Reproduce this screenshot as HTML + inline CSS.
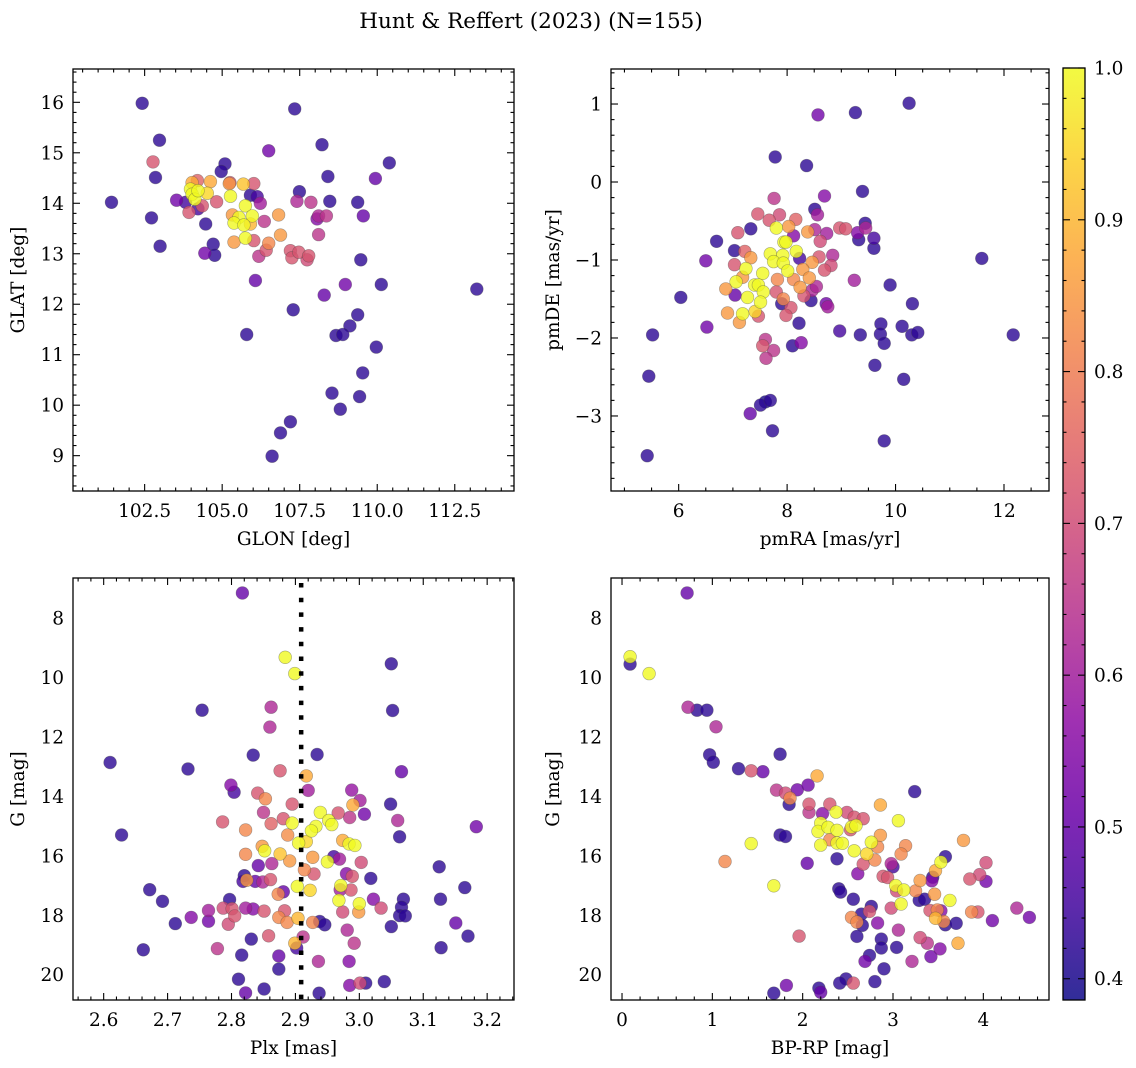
<!DOCTYPE html>
<html><head><meta charset="utf-8"><style>
html,body{margin:0;padding:0;background:#fff;}
svg{display:block;font-family:"DejaVu Serif","Liberation Serif",serif;}
</style></head><body>
<svg id="fig" width="1136" height="1068" viewBox="0 0 1136 1068" xmlns="http://www.w3.org/2000/svg">
<text x="531" y="28" font-size="21.5" text-anchor="middle" fill="#000">Hunt &amp; Reffert (2023) (N=155)</text>
</svg>
<script>
// ---- data: panel 1 (GLON vs GLAT)
const glon=[102.42,107.34,102.98,108.22,106.5,102.77,110.39,105.09,104.97,102.85,108.41,109.94,101.43,102.72,103.0,103.53,103.82,103.93,104.22,104.36,104.03,104.2,103.98,104.03,104.12,104.22,104.52,104.62,104.82,104.47,104.71,104.44,104.76,105.25,105.23,105.27,105.68,106.02,105.91,106.13,106.23,105.33,105.75,105.97,105.54,105.38,105.7,105.91,105.38,105.75,106.02,106.36,106.82,106.88,106.5,106.42,106.18,106.07,107.2,107.25,107.47,107.79,107.74,107.49,107.41,107.86,108.11,108.06,108.36,108.11,108.47,109.37,109.55,109.47,110.13,113.21,108.97,108.29,107.29,105.79,109.37,109.12,108.67,108.89,109.97,109.53,108.54,109.43,108.81,107.2,106.88,106.61];
const glat=[15.98,15.87,15.25,15.16,15.04,14.82,14.8,14.78,14.63,14.51,14.53,14.49,14.02,13.71,13.15,14.06,14.02,13.82,13.89,13.95,14.41,14.45,14.28,14.18,14.08,14.25,14.2,14.43,14.03,13.59,13.19,13.01,12.97,14.41,14.39,14.14,14.38,14.39,14.16,14.13,14.0,13.77,13.95,13.75,13.72,13.61,13.57,13.59,13.23,13.31,13.26,13.64,13.77,13.37,13.21,13.07,12.95,12.47,13.06,12.92,13.03,12.96,12.88,14.23,14.04,14.02,13.75,13.69,13.75,13.38,14.04,14.02,13.75,12.88,12.39,12.3,12.39,12.18,11.89,11.4,11.79,11.57,11.38,11.4,11.15,10.64,10.24,10.17,9.92,9.67,9.45,8.99];
const prob1=[.42,.42,.42,.42,.52,.72,.42,.42,.42,.42,.42,.5,.42,.42,.42,.52,.45,.72,.45,.72,.88,.75,1,1,1,1,.95,.88,.72,.42,.42,.52,.42,.72,.85,1,.92,.72,.42,.45,.6,.85,1,1,1,1,1,.9,.85,1,.72,.65,.85,.85,.82,.72,.65,.5,.72,.72,.72,.72,.7,.42,.62,.65,.62,.55,.65,.65,.42,.42,.5,.42,.42,.42,.52,.5,.42,.42,.42,.42,.42,.42,.42,.42,.42,.42,.42,.42,.42,.42];
// ---- data: panel 2 (pmRA vs pmDE)
const pmra=[10.25,9.26,8.57,7.78,8.36,8.69,9.39,7.76,8.51,8.56,7.46,7.86,7.67,8.16,7.33,7.09,7.8,8.03,8.12,8.38,8.51,8.73,8.61,8.97,9.08,9.3,9.45,9.44,9.32,9.6,9.6,6.7,7.03,6.5,7.22,7.33,7.03,7.24,7.69,7.94,7.98,8.17,7.92,7.75,7.93,8.01,7.55,8.23,8.46,8.29,8.41,8.12,7.82,8.59,8.84,8.81,8.69,9.24,9.9,7.06,6.87,7.18,7.4,7.47,7.56,7.04,7.27,7.51,7.8,7.93,7.9,8.24,8.31,8.46,8.54,8.44,8.72,8.75,8.07,7.98,6.04,6.9,7.12,7.18,7.41,7.47,8.22,10.31,6.52,5.52,8.97,9.35,9.73,9.72,9.79,10.12,10.3,10.41,11.59,12.17,7.6,7.55,7.75,7.61,8.1,8.26,9.62,10.15,5.45,7.51,7.6,7.69,7.32,7.73,9.79,5.42];
const pmde=[1.01,0.89,0.86,0.32,0.21,-0.18,-0.12,-0.21,-0.35,-0.42,-0.41,-0.42,-0.49,-0.48,-0.6,-0.65,-0.59,-0.57,-0.69,-0.64,-0.61,-0.66,-0.76,-0.59,-0.6,-0.65,-0.59,-0.53,-0.74,-0.72,-0.85,-0.76,-0.88,-1.01,-0.89,-0.97,-1.06,-1.11,-0.92,-0.77,-0.77,-0.89,-0.94,-1.02,-1.04,-1.14,-1.17,-0.98,-1.03,-1.12,-1.23,-1.25,-1.25,-0.96,-0.94,-1.07,-1.13,-1.26,-1.32,-1.28,-1.37,-1.22,-1.32,-1.32,-1.41,-1.45,-1.48,-1.54,-1.41,-1.5,-1.56,-1.35,-1.46,-1.39,-1.34,-1.52,-1.56,-1.6,-1.61,-1.71,-1.48,-1.68,-1.8,-1.69,-1.66,-1.72,-1.81,-1.56,-1.86,-1.96,-1.91,-1.96,-1.82,-1.95,-2.07,-1.85,-1.96,-1.93,-0.98,-1.96,-2.02,-2.1,-2.16,-2.26,-2.1,-2.06,-2.35,-2.53,-2.49,-2.86,-2.82,-2.8,-2.97,-3.19,-3.32,-3.51];
const prob2=[.42,.42,.52,.42,.42,.55,.42,.65,.42,.6,.72,.7,.72,.75,.42,.72,1,.85,.55,.85,.62,.6,.7,.72,.72,.55,.62,.42,.42,.45,.42,.42,.42,.52,.75,.85,.72,1,1,1,1,1,1,1,1,1,1,.45,.85,.85,.85,.82,.82,.72,.62,.7,.72,.6,.42,1,.85,.85,1,1,1,.5,1,1,.72,.82,.42,.85,.72,.62,.62,.42,.52,.6,.72,.72,.42,.85,.85,1,.95,.72,.42,.42,.52,.42,.45,.42,.42,.42,.42,.42,.42,.42,.42,.42,.65,.72,.65,.65,.42,.55,.42,.42,.42,.42,.4,.42,.5,.42,.42,.42];
// ---- data: panel 3 (Plx vs G)
const plx=[2.817,2.884,2.899,3.05,2.754,2.862,2.86,3.052,2.61,2.834,2.934,2.732,2.876,3.066,2.917,2.799,2.804,2.92,2.988,2.841,2.853,2.895,3.001,2.99,3.049,3.008,2.85,2.786,2.862,2.881,2.895,2.939,2.967,2.985,2.952,2.957,2.932,2.925,3.06,3.183,2.628,2.822,2.888,3.063,2.905,2.917,2.974,2.984,2.993,2.848,2.852,2.822,2.876,2.891,2.927,2.95,2.96,2.969,3.003,2.842,2.863,2.914,2.929,3.125,2.82,2.818,2.824,2.837,2.849,2.861,2.98,2.989,3.018,2.672,2.903,2.923,2.971,2.97,2.987,2.873,2.881,3.165,2.692,2.797,2.968,3.0,2.999,3.022,3.034,3.069,3.066,3.063,3.072,3.127,2.764,2.787,2.801,2.805,2.822,2.834,2.851,2.883,2.874,2.887,2.904,2.927,2.938,2.946,2.974,2.712,2.737,2.764,2.795,3.05,3.151,3.17,2.662,2.778,2.831,2.858,2.912,2.902,2.899,2.981,2.992,3.128,2.816,2.874,2.874,2.936,2.984,2.811,2.822,2.851,2.937,2.985,3.001,3.01,3.039];
const gmag3=[7.16,9.32,9.87,9.54,11.1,11.0,11.67,11.11,12.86,12.61,12.59,13.08,13.14,13.17,13.31,13.62,13.86,13.8,13.79,13.89,14.08,14.26,14.14,14.29,14.26,14.6,14.54,14.86,14.92,14.75,14.9,14.54,14.56,14.71,14.81,14.95,15.01,15.16,14.81,15.02,15.3,15.13,15.3,15.36,15.57,15.52,15.48,15.6,15.65,15.68,15.83,15.95,15.94,16.17,16.05,16.2,16.03,16.11,16.22,16.33,16.26,16.47,16.61,16.37,16.67,16.86,16.82,16.86,16.88,16.8,16.6,16.69,16.76,17.14,17.03,17.16,17.0,17.14,17.15,17.29,17.21,17.07,17.53,17.47,17.5,17.61,17.89,17.46,17.76,17.46,17.73,18.01,18.02,17.46,17.84,17.76,17.78,18.02,17.76,17.79,17.86,17.85,18.07,18.24,18.1,18.24,18.21,18.32,17.89,18.28,18.07,18.2,18.3,18.38,18.26,18.7,19.16,19.12,18.8,18.69,18.73,19.1,18.94,18.5,18.94,19.09,19.34,19.37,19.81,19.55,19.55,20.15,20.61,20.48,20.62,20.36,20.28,20.28,20.23];
const prob3=[.5,1,1,.42,.42,.62,.62,.42,.42,.42,.42,.42,.72,.5,.88,.55,.45,.6,.58,.72,.82,.72,.6,.88,.42,.52,.65,.72,.75,.72,1,1,.72,.65,1,1,1,1,.62,.52,.42,.82,.83,.42,1,.95,.88,1,1,.85,1,.82,.92,.85,.85,1,.45,.6,.7,.5,.62,.82,.72,.42,.42,.45,.85,.5,.62,.72,.55,.72,.42,.42,1,.95,1,.6,.72,.82,.5,.42,.42,.42,1,1,.85,.55,.7,.42,.42,.42,.42,.42,.6,.7,.72,.72,.6,.55,.72,.72,.82,.82,.9,.82,.42,.42,.7,.42,.55,.52,.7,.42,.5,.42,.42,.65,.42,.72,.65,.45,.9,.62,.65,.42,.42,.5,.42,.62,.55,.42,.5,.42,.42,.55,.7,.42,.42];
const plxRef=[2.909];
// ---- data: panel 4 (BP-RP vs G)
const bprp=[0.72,0.09,0.09,0.3,0.73,0.83,0.94,1.04,0.97,1.01,1.29,1.43,1.56,1.75,2.16,1.71,1.81,1.94,2.06,1.85,1.86,2.07,2.07,2.22,2.3,2.37,2.49,2.57,2.67,2.86,3.06,2.2,2.17,2.28,2.38,2.54,2.59,2.53,1.75,1.81,1.43,2.3,2.38,2.44,2.2,2.57,2.76,2.86,2.83,2.71,2.8,2.67,3.14,3.09,3.78,3.58,3.53,3.47,4.03,1.14,2.05,2.38,2.61,2.98,3.0,2.89,2.94,1.68,3.03,3.12,3.04,3.25,3.3,3.43,3.44,3.85,3.96,4.03,2.4,2.42,2.56,3.29,3.35,3.46,3.63,3.09,2.98,3.41,3.49,3.53,3.47,3.56,3.58,3.7,3.87,3.94,4.1,4.37,4.51,2.76,2.74,2.65,2.54,2.6,2.66,2.83,2.6,1.96,2.87,2.87,3.04,3.06,3.3,3.38,3.52,3.42,3.72,2.74,2.69,2.9,3.21,2.48,2.41,2.56,2.8,2.18,2.2,1.82,1.68,3.24];
const gmag4=[7.16,9.3,9.55,9.87,11.0,11.1,11.1,11.66,12.6,12.85,13.07,13.14,13.17,12.58,13.31,13.79,13.89,13.78,13.62,14.27,14.06,14.26,14.54,14.58,14.26,14.53,14.54,14.7,14.75,14.29,14.82,14.9,15.18,15.04,15.14,15.03,14.98,15.12,15.3,15.35,15.59,15.46,15.57,15.58,15.64,15.83,15.54,15.31,15.7,15.94,16.14,16.28,15.66,15.94,15.48,16.03,16.21,16.5,16.23,16.19,16.25,16.1,16.6,16.26,16.37,16.69,16.73,17.01,17.0,17.15,17.18,17.18,16.83,16.84,16.72,16.78,16.63,16.86,17.11,17.22,17.46,17.5,17.46,17.29,17.5,17.62,17.76,17.84,17.82,17.85,18.1,18.21,18.32,18.27,17.89,17.89,18.18,17.76,18.07,17.7,17.87,17.96,18.07,18.23,18.34,18.26,18.71,18.7,18.8,19.1,19.08,18.5,18.75,18.94,19.13,19.39,18.94,19.35,19.55,19.8,19.55,20.14,20.28,20.28,20.23,20.45,20.59,20.36,20.62,13.84];
const prob4=[.5,1,.42,1,.62,.42,.42,.62,.42,.42,.42,.72,.5,.42,.88,.65,.7,.52,.52,.42,.82,.72,.65,.55,.72,1,.7,.72,.72,.88,1,1,1,1,1,1,1,.72,.42,.42,1,.82,1,1,1,1,1,.85,.82,.95,.82,.72,.82,.82,.85,.42,1,.88,.7,.82,.5,.42,.55,.62,.45,.72,.72,1,1,1,.7,.82,.85,.55,.42,.72,.7,.52,.42,.42,.42,.42,.42,.85,1,1,.7,.72,.82,.55,.9,.82,.42,.42,.82,.72,.52,.62,.52,.42,.72,.42,.82,.82,.42,.55,.42,.72,.42,.42,.42,.62,.7,.65,.55,.52,.88,.42,.52,.42,.62,.42,.42,.72,.42,.42,.5,.52,.42,.42];
// ---- tick labels
const xt1=[102.5,105.0,107.5,110.0,112.5], yt1=[9,10,11,12,13,14,15,16];
const xt2=[6,8,10,12], yt2=[-3,-2,-1,0,1];
const xt3=[2.6,2.7,2.8,2.9,3.0,3.1,3.2], yt3=[8,10,12,14,16,18,20];
const xt4=[0,1,2,3,4], yt4=[8,10,12,14,16,18,20];
const cbTicks=[0.4,0.5,0.6,0.7,0.8,0.9,1.0];
const VMIN=0.386, VMAX=1.0;

const NS="http://www.w3.org/2000/svg";
const svg=document.getElementById('fig');
const FS=18.5;
function mk(tag,attrs,parent){const e=document.createElementNS(NS,tag);for(const k in attrs)e.setAttribute(k,attrs[k]);(parent||svg).appendChild(e);return e;}
const plasma=[[13,8,135],[65,4,157],[106,0,168],[143,13,164],[177,42,144],[204,71,120],[225,100,98],[242,132,75],[252,166,54],[252,206,37],[240,249,33]];
function cmap(v){let t=(v-VMIN)/(VMAX-VMIN);t=Math.max(0,Math.min(1,t));const f=t*10,i=Math.min(9,Math.floor(f)),r=f-i;const a=plasma[i],b=plasma[i+1];return `rgb(${Math.round(a[0]+(b[0]-a[0])*r)},${Math.round(a[1]+(b[1]-a[1])*r)},${Math.round(a[2]+(b[2]-a[2])*r)})`;}
function fmt(v,d){return v.toFixed(d);}

function panel(o){
  const g=mk('g',{});
  
  
  const sx=v=>o.L+(v-o.x0)/(o.x1-o.x0)*(o.R-o.L);
  const sy=v=>o.B-(v-o.y0)/(o.y1-o.y0)*(o.B-o.T);
  const clipId='clip-'+o.name;
  const cp=mk('clipPath',{id:clipId},g);mk('rect',{x:o.L,y:o.T,width:o.R-o.L,height:o.B-o.T},cp);
  const pts=mk('g',{'clip-path':`url(#${clipId})`},g);
  
  
  const n=Math.min(o.xs.length,o.ys.length,o.ps.length);
  const idx=[];for(let i=0;i<n;i++)idx.push(i);
  idx.sort((a,b)=>o.ps[a]-o.ps[b]);
  for(const i of idx){
    const c=mk('circle',{cx:sx(o.xs[i]).toFixed(1),cy:sy(o.ys[i]).toFixed(1),r:6.4,fill:cmap(o.ps[i]),'fill-opacity':0.8,stroke:'rgba(70,70,70,0.45)','stroke-width':0.6},pts);
    
    
  }
  if(o.vline){for(const v of o.vline){const l=mk('line',{x1:sx(v),x2:sx(v),y1:o.T+5,y2:o.B,stroke:'#000','stroke-width':4.5,'stroke-dasharray':'4.5 10.2'},g);
    
    }}
  const tk=mk('g',{stroke:'#000','stroke-width':1.1},g);
  const xmin=Math.ceil(o.x0/o.xm-1e-9),xmax=Math.floor(o.x1/o.xm+1e-9);
  for(let k=xmin;k<=xmax;k++){const v=k*o.xm,x=sx(v);const major=Math.abs(v/o.xM-Math.round(v/o.xM))<1e-6;const len=major?7:3.5;
    mk('line',{x1:x,x2:x,y1:o.B,y2:o.B-len},tk);mk('line',{x1:x,x2:x,y1:o.T,y2:o.T+len},tk);}
  const ymin=Math.ceil(o.y0/o.ym-1e-9),ymax=Math.floor(o.y1/o.ym+1e-9);
  for(let k=ymin;k<=ymax;k++){const v=k*o.ym,y=sy(v);const major=Math.abs(v/o.yM-Math.round(v/o.yM))<1e-6;const len=major?7:3.5;
    mk('line',{x1:o.L,x2:o.L+len,y1:y,y2:y},tk);mk('line',{x1:o.R,x2:o.R-len,y1:y,y2:y},tk);}
  const fr=mk('rect',{x:o.L,y:o.T,width:o.R-o.L,height:o.B-o.T,fill:'none',stroke:'#000','stroke-width':1.3},g);
  
  
  for(const v of o.xt){const t=mk('text',{x:sx(v),y:o.B+26,'font-size':FS,'text-anchor':'middle'},g);t.textContent=fmt(v,o.xd);
    
    }
  for(const v of o.yt){const t=mk('text',{x:o.L-9,y:sy(v)+6.5,'font-size':FS,'text-anchor':'end'},g);t.textContent=(v<0?'\u2212'+fmt(-v,o.yd):fmt(v,o.yd));
    
    }
  const xl=mk('text',{x:(o.L+o.R)/2,y:o.B+54,'font-size':FS,'text-anchor':'middle'},g);xl.textContent=o.xlabel;
  
  
  const cy=(o.T+o.B)/2;
  const yl=mk('text',{x:o.ylx,y:cy,'font-size':FS,'text-anchor':'middle',transform:`rotate(-90 ${o.ylx} ${cy})`},g);yl.textContent=o.ylabel;
  
  
}

panel({name:'glon-glat-panel',L:73,R:514,T:69,B:491,x0:100.19,x1:114.41,y0:8.30,y1:16.66,xs:glon,ys:glat,ps:prob1,xt:xt1,yt:yt1,xd:1,yd:0,xm:0.5,xM:2.5,ym:0.2,yM:1,xlabel:'GLON [deg]',ylabel:'GLAT [deg]',ylx:24});
panel({name:'pm-panel',L:611,R:1049,T:69,B:491,x0:4.752,x1:12.83,y0:-3.962,y1:1.449,xs:pmra,ys:pmde,ps:prob2,xt:xt2,yt:yt2,xd:0,yd:0,xm:0.5,xM:2,ym:0.2,yM:1,xlabel:'pmRA [mas/yr]',ylabel:'pmDE [mas/yr]',ylx:559});
panel({name:'plx-g-panel',L:73,R:514,T:578,B:1000,x0:2.552,x1:3.242,y0:20.85,y1:6.654,xs:plx,ys:gmag3,ps:prob3,xt:xt3,yt:yt3,xd:1,yd:0,xm:0.02,xM:0.1,ym:0.5,yM:2,xlabel:'Plx [mas]',ylabel:'G [mag]',ylx:24,vline:plxRef});
panel({name:'cmd-panel',L:611,R:1049,T:578,B:1000,x0:-0.122,x1:4.727,y0:20.85,y1:6.654,xs:bprp,ys:gmag4,ps:prob4,xt:xt4,yt:yt4,xd:0,yd:0,xm:0.2,xM:1,ym:0.5,yM:2,xlabel:'BP-RP [mag]',ylabel:'G [mag]',ylx:559});

(function(){
  const L=1063,R=1085,T=68,B=1000;
  const cb=mk('g',{});
  
  
  const defs=mk('defs',{},cb);
  const lg=mk('linearGradient',{id:'cbgrad',x1:0,y1:1,x2:0,y2:0},defs);
  for(let i=0;i<=20;i++){const v=VMIN+(VMAX-VMIN)*i/20;mk('stop',{offset:(i/20),'stop-color':cmap(v),'stop-opacity':0.85},lg);}
  mk('rect',{x:L,y:T,width:R-L,height:B-T,fill:'url(#cbgrad)'},cb);
  const sy=v=>B-(v-VMIN)/(VMAX-VMIN)*(B-T);
  const tk=mk('g',{stroke:'#000','stroke-width':1.1},cb);
  for(let k=Math.ceil(VMIN/0.02);k<=Math.floor(VMAX/0.02+1e-9);k++){const v=k*0.02,y=sy(v);const major=Math.abs(v*10-Math.round(v*10))<1e-6;
    mk('line',{x1:R,x2:R-(major?7:3.5),y1:y,y2:y},tk);mk('line',{x1:L,x2:L+(major?7:3.5),y1:y,y2:y},tk);}
  mk('rect',{x:L,y:T,width:R-L,height:B-T,fill:'none',stroke:'#000','stroke-width':1.3},cb);
  for(const v of cbTicks){const t=mk('text',{x:R+9,y:sy(v)+6.5,'font-size':FS},cb);t.textContent=v.toFixed(1);
    
    }
})();
</script>
</body></html>
